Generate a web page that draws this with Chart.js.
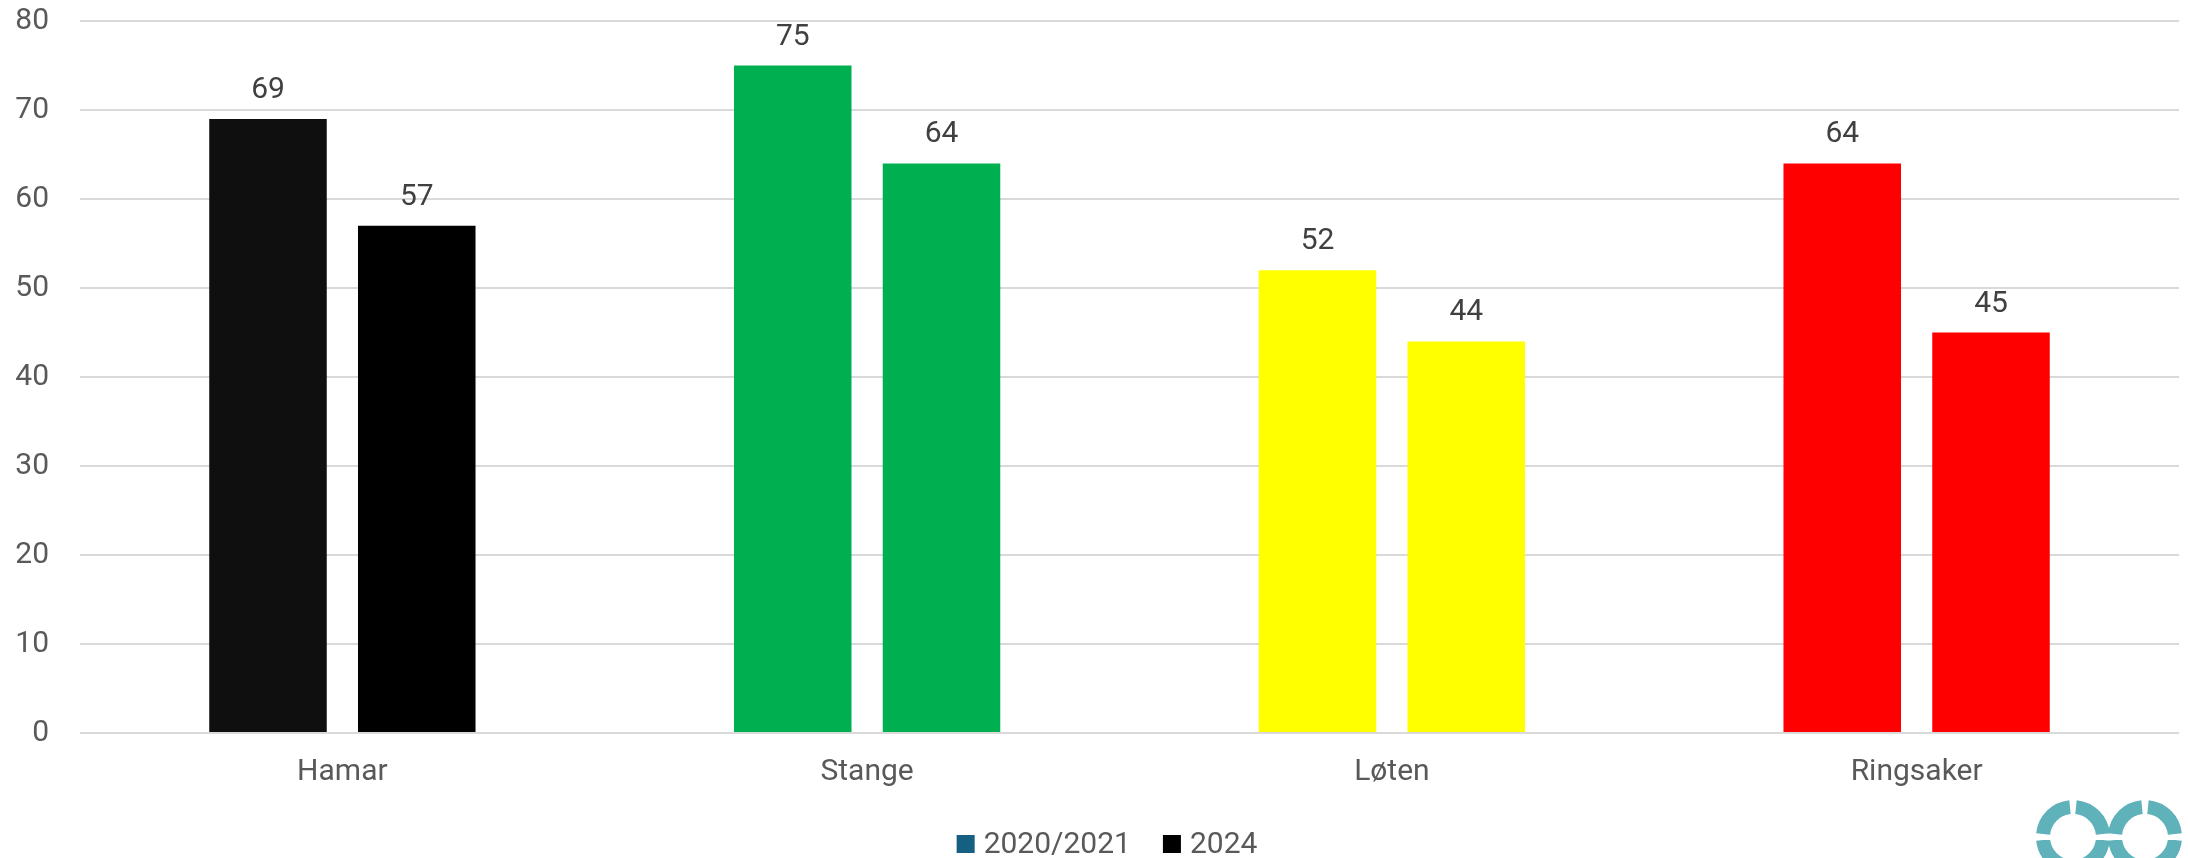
<!DOCTYPE html>
<html>
<head>
<meta charset="utf-8">
<script src="https://cdn.jsdelivr.net/npm/chart.js@4"></script>
<style>
  html, body { margin: 0; padding: 0; background: #fff; }
  #wrap { width: 2188px; height: 858px; }
</style>
</head>
<body>
<div id="wrap"><canvas id="chart"></canvas></div>
<script>
const categories = ['Hamar', 'Stange', 'Løten', 'Ringsaker'];
const seriesNames = ['2020/2021', '2024'];
const values2020 = [69, 75, 52, 64];
const values2024 = [57, 64, 44, 45];
const yTicks = [0, 10, 20, 30, 40, 50, 60, 70, 80];

const colors2020 = ['#0F0F0F', '#00B050', '#FFFF00', '#FF0000'];
const colors2024 = ['#000000', '#00B050', '#FFFF00', '#FF0000'];
const legendColors = ['#156082', '#000000'];

const FONT = 'Roboto, "Liberation Sans", sans-serif';
Chart.defaults.font.family = FONT;
Chart.defaults.font.size = 30;
Chart.defaults.color = '#595959';

// value labels above each bar
const barLabels = {
  id: 'barLabels',
  afterDatasetsDraw(chart) {
    const ctx = chart.ctx;
    ctx.save();
    ctx.font = '30px ' + FONT;
    ctx.fillStyle = '#404040';
    ctx.textAlign = 'center';
    ctx.textBaseline = 'alphabetic';
    chart.data.datasets.forEach((ds, i) => {
      chart.getDatasetMeta(i).data.forEach((bar, j) => {
        ctx.fillText(ds.data[j], bar.x, bar.y - 21);
      });
    });
    ctx.restore();
  }
};

// legend at the bottom, drawn by hand so the spacing matches
const bottomLegend = {
  id: 'bottomLegend',
  afterDraw(chart) {
    const ctx = chart.ctx;
    ctx.save();
    ctx.font = '30px ' + FONT;
    const box = 18, gapText = 9, gapItem = 32;
    const widths = seriesNames.map(s => box + gapText + ctx.measureText(s).width);
    const total = widths.reduce((a, b) => a + b, 0) + gapItem * (widths.length - 1);
    let x = chart.width / 2 + 13 - total / 2;
    const y = 844;
    ctx.textBaseline = 'middle';
    ctx.textAlign = 'left';
    seriesNames.forEach((s, i) => {
      ctx.fillStyle = legendColors[i];
      ctx.fillRect(x, y - box / 2, box, box);
      ctx.fillStyle = '#595959';
      ctx.fillText(s, x + box + gapText, y + 1);
      x += widths[i] + gapItem;
    });
    ctx.restore();
  }
};

// the small logo in the bottom right corner
const logo = {
  id: 'logo',
  afterDraw(chart) {
    const ctx = chart.ctx;
    ctx.save();
    ctx.strokeStyle = '#5FB1BA';
    ctx.lineWidth = 14;
    const cy = 837, r = 30, g = 0.2;
    [2073, 2145].forEach(cx => {
      const arcs = [[Math.PI + g / 2, 1.5 * Math.PI - g / 2], [1.5 * Math.PI + g / 2, 2 * Math.PI - g / 2],
                    [g / 2, 0.5 * Math.PI - g / 2], [0.5 * Math.PI + g / 2, Math.PI - g / 2]];
      arcs.forEach(a => {
        ctx.beginPath();
        ctx.arc(cx, cy, r, a[0], a[1]);
        ctx.stroke();
      });
    });
    ctx.fillStyle = '#fff';
    ctx.fillRect(2030, 835, 158, 5);
    ctx.restore();
  }
};

new Chart(document.getElementById('chart'), {
  type: 'bar',
  data: {
    labels: categories,
    datasets: [
      { label: seriesNames[0], data: values2020, backgroundColor: colors2020 },
      { label: seriesNames[1], data: values2024, backgroundColor: colors2024 }
    ]
  },
  options: {
    responsive: true,
    maintainAspectRatio: false,
    animation: false,
    categoryPercentage: 0.567,
    barPercentage: 0.79,
    layout: { padding: { left: 0, right: 9, top: 21, bottom: 47 } },
    plugins: {
      tooltip: { enabled: false },
      legend: { display: false }
    },
    scales: {
      x: {
        grid: { display: false, drawTicks: false },
        border: { display: false },
        ticks: { padding: 21, color: '#595959' }
      },
      y: {
        min: 0,
        max: 80,
        afterBuildTicks(axis) { axis.ticks = yTicks.map(v => ({ value: v })); },
        afterFit(axis) {
          axis.width = 80;
          axis.paddingTop = 0;
          axis.paddingBottom = 0;
        },
        grid: { color: '#D9D9D9', lineWidth: 2, drawTicks: false },
        border: { display: false },
        ticks: { padding: 31, color: '#595959' }
      }
    }
  },
  plugins: [barLabels, bottomLegend, logo]
});
</script>
</body>
</html>
